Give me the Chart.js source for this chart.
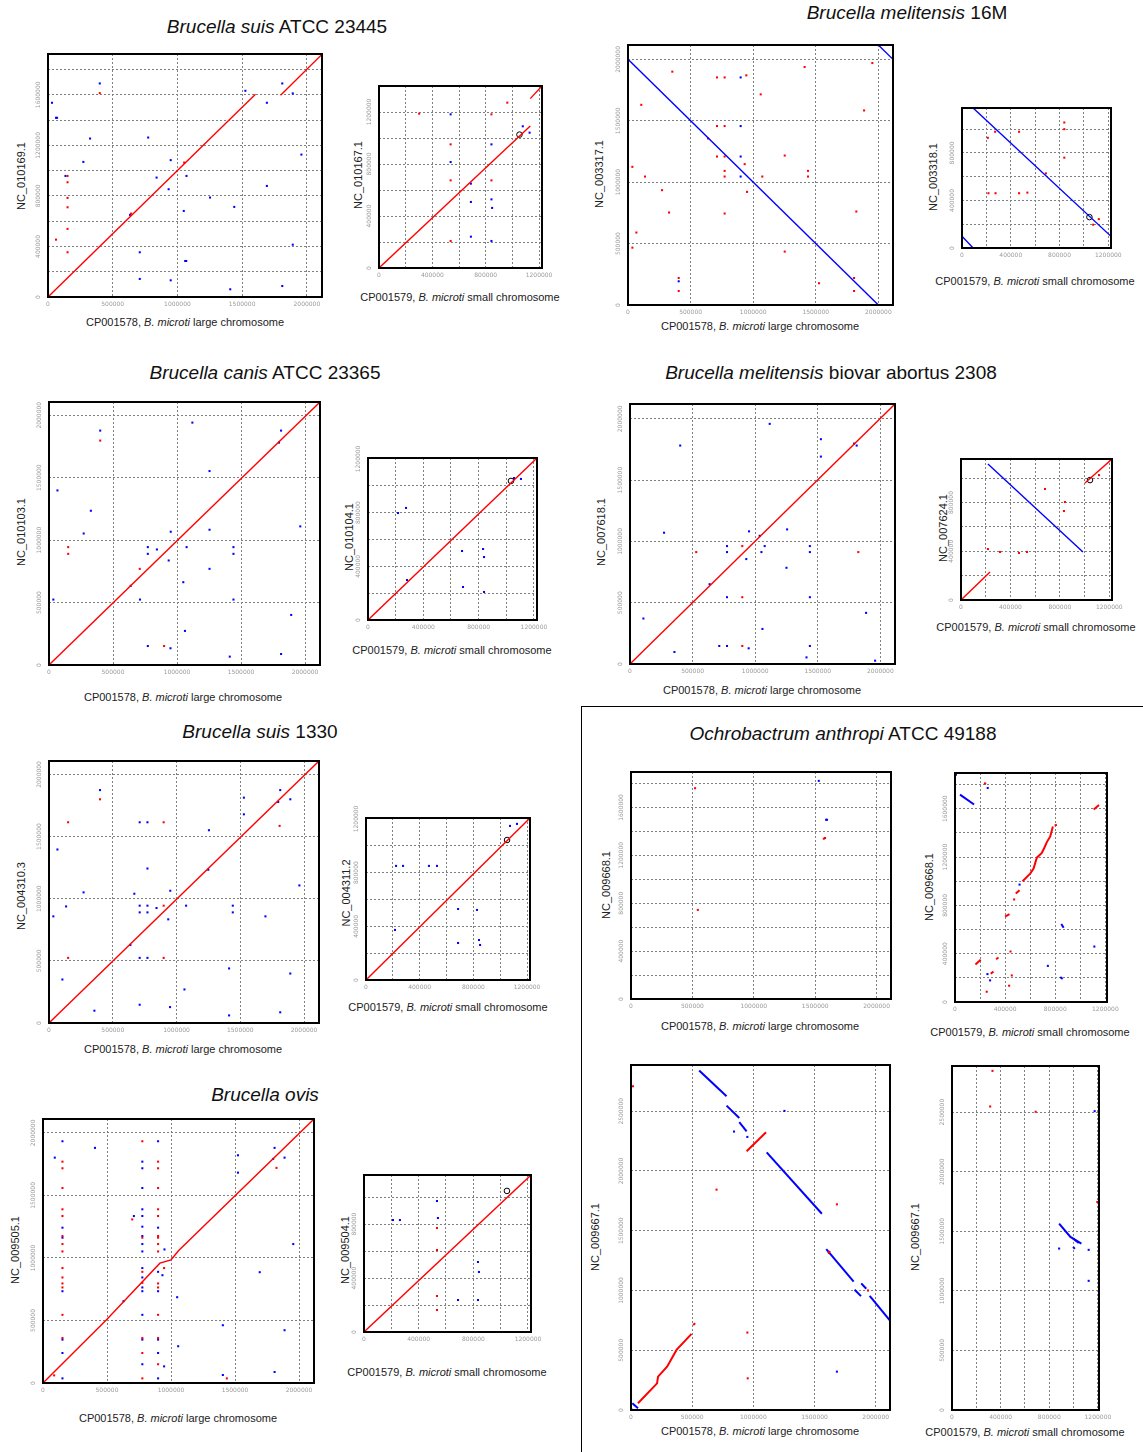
<!DOCTYPE html>
<html>
<head>
<meta charset="utf-8">
<script src="https://cdn.jsdelivr.net/npm/chart.js@4.4.0/dist/chart.umd.min.js"></script>
<style>
    body { margin: 0; background: #fff; width: 1143px; height: 1452px; position: relative; overflow: hidden; font-family: "Liberation Sans", Arial, sans-serif; }
    canvas { position: absolute; }
    .title { position: absolute; width: 480px; text-align: center; font-size: 19px; line-height: 20px; color: #111; white-space: nowrap; }
    .xt { position: absolute; width: 300px; text-align: center; font-size: 11px; line-height: 12px; color: #222; white-space: nowrap; }
    .yt { position: absolute; width: 120px; text-align: center; font-size: 11px; line-height: 12px; color: #222; white-space: nowrap; transform: rotate(-90deg); }
    .section { position: absolute; left: 581px; top: 706px; width: 570px; height: 760px; border-left: 1.5px solid #000; border-top: 1.5px solid #000; }
</style>
</head>
<body>
<div class="section"></div>
<div id="texts"></div>
<script>
// tick positions (bp)
const grid500k = [0, 500000, 1000000, 1500000, 2000000, 2500000];
const grid200k = [0, 200000, 400000, 600000, 800000, 1000000, 1200000, 1400000, 1600000, 1800000, 2000000];
const labels500k = [0, 500000, 1000000, 1500000, 2000000, 2500000];
const labels400k = [0, 400000, 800000, 1200000, 1600000, 2000000];

// Brucella suis ATCC 23445
const suis23445Big_redSeg = [[0, 0, 1603000, 1605000], [1797000, 1597000, 2117000, 1920000]];
const suis23445Big_red = [[400000, 1613000], [151000, 958000], [151000, 908000], [151000, 784000], [151000, 710000], [151000, 539000], [62000, 454000], [151000, 354000], [1052000, 1064000], [642000, 660000]];
const suis23445Big_blue = [[400000, 1690000], [31000, 1537000], [62000, 1418000], [70000, 1418000], [325000, 1254000], [774000, 1262000], [273000, 1069000], [948000, 1083000], [135000, 958000], [1070000, 958000], [839000, 945000], [932000, 853000], [1252000, 787000], [1439000, 713000], [1049000, 681000], [634000, 650000], [1525000, 1632000], [1691000, 1537000], [1810000, 1690000], [1891000, 1611000], [1958000, 1127000], [1691000, 879000], [1891000, 414000], [709000, 354000], [1060000, 285000], [1068000, 285000], [709000, 143000], [948000, 132000], [1408000, 61000], [1810000, 87000]];
const suis23445Small_redSeg = [[0, 0, 1134000, 1092000], [1134000, 1303000, 1222000, 1400000]];
const suis23445Small_red = [[301000, 1187000], [962000, 1272000], [843000, 1182000], [537000, 951000], [537000, 674000], [843000, 674000], [537000, 208000]];
const suis23445Small_blue = [[537000, 1182000], [1078000, 1090000], [1129000, 1041000], [843000, 951000], [537000, 815000], [689000, 649000], [689000, 508000], [843000, 528000], [848000, 462000], [689000, 241000], [843000, 208000]];
const suis23445Small_ring = [[1053000, 1026000]];

// Brucella melitensis 16M
const meli16MBig_blueSeg = [[0, 2000000, 2000000, 0], [2000000, 2117000, 2117000, 2000000]];
const meli16MBig_red = [[354000, 1900000], [711000, 1853000], [772000, 1853000], [945000, 1870000], [1411000, 1938000], [1952000, 1970000], [1060000, 1715000], [106000, 1630000], [1886000, 1584000], [711000, 1457000], [772000, 1457000], [639000, 1356000], [711000, 1209000], [772000, 1209000], [1252000, 1217000], [932000, 1147000], [35000, 1125000], [772000, 1092000], [1438000, 1092000], [136000, 1046000], [772000, 1046000], [1073000, 1046000], [1438000, 1046000], [272000, 935000], [951000, 921000], [328000, 753000], [772000, 745000], [1824000, 761000], [67000, 590000], [35000, 467000], [1252000, 435000], [405000, 220000], [1806000, 220000], [1526000, 177000], [405000, 114000], [1806000, 114000]];
const meli16MBig_blue = [[900000, 1853000], [900000, 1457000], [900000, 1209000], [900000, 1046000], [405000, 193000]];
const meli16MSmall_blueSeg = [[91000, 1178000, 1222000, 98000], [0, 98000, 91000, 0]];
const meli16MSmall_red = [[839000, 1056000], [839000, 1000000], [468000, 978000], [272000, 978000], [212000, 927000], [839000, 760000], [688000, 628000], [217000, 461000], [275000, 461000], [468000, 461000], [536000, 466000], [1122000, 243000], [1076000, 196000]];
const meli16MSmall_ring = [[1045000, 260000]];

// Brucella canis ATCC 23365
const canisBig_redSeg = [[0, 0, 2117000, 2106000]];
const canisBig_red = [[400000, 1797000], [150000, 944000], [150000, 890000], [709000, 770000], [899000, 152000]];
const canisBig_blue = [[400000, 1877000], [1120000, 1941000], [1813000, 1877000], [1797000, 1781000], [1254000, 1553000], [66000, 1398000], [327000, 1235000], [271000, 1053000], [951000, 1067000], [1254000, 1083000], [1963000, 1110000], [772000, 944000], [772000, 890000], [843000, 925000], [1075000, 944000], [1441000, 944000], [1441000, 890000], [935000, 837000], [1254000, 770000], [1049000, 663000], [638000, 634000], [34000, 524000], [711000, 524000], [1441000, 524000], [1892000, 401000], [1062000, 273000], [772000, 152000], [949000, 134000], [1412000, 67000], [1813000, 88000]];
const canisSmall_redSeg = [[0, 0, 1222000, 1207000]];
const canisSmall_red = [];
const canisSmall_blue = [[217000, 797000], [275000, 835000], [282000, 298000], [680000, 514000], [832000, 529000], [839000, 469000], [687000, 246000], [839000, 209000], [1056000, 1058000], [1106000, 1051000]];
const canisSmall_ring = [[1034000, 1036000]];

// Brucella melitensis biovar abortus 2308
const abortusBig_redSeg = [[0, 0, 2117000, 2121000]];
const abortusBig_red = [[529000, 913000], [897000, 962000], [1824000, 913000], [897000, 545000], [897000, 147000]];
const abortusBig_blue = [[1116000, 1959000], [401000, 1782000], [1525000, 1834000], [1525000, 1692000], [1790000, 1798000], [1811000, 1782000], [272000, 1071000], [951000, 1082000], [1255000, 1098000], [1036000, 1046000], [775000, 962000], [775000, 913000], [1050000, 913000], [1076000, 962000], [1437000, 962000], [1437000, 913000], [929000, 856000], [1250000, 785000], [636000, 651000], [775000, 545000], [1437000, 545000], [107000, 371000], [1886000, 417000], [1058000, 286000], [713000, 147000], [775000, 147000], [1437000, 147000], [355000, 98000], [948000, 128000], [1410000, 54000], [1958000, 27000]];
const abortusSmall_redSeg = [[0, 0, 235000, 230000], [1003000, 960000, 1222000, 1157000]];
const abortusSmall_blueSeg = [[218000, 1116000, 987000, 394000]];
const abortusSmall_red = [[218000, 418000], [316000, 394000], [469000, 386000], [534000, 394000], [680000, 911000], [833000, 730000], [841000, 804000], [1117000, 1025000]];
const abortusSmall_ring = [[1044000, 984000]];

// Brucella suis 1330
const suis1330Big_redSeg = [[0, 0, 2117000, 2108000]];
const suis1330Big_red = [[400000, 1800000], [150000, 1615000], [899000, 1615000], [1808000, 1586000], [899000, 944000], [150000, 524000], [899000, 524000]];
const suis1330Big_blue = [[400000, 1874000], [1813000, 1874000], [1528000, 1813000], [1892000, 1800000], [1797000, 1778000], [1528000, 1679000], [711000, 1615000], [772000, 1615000], [1254000, 1551000], [66000, 1396000], [772000, 1243000], [1249000, 1233000], [1963000, 1107000], [951000, 1064000], [271000, 1051000], [669000, 1040000], [134000, 938000], [711000, 944000], [772000, 944000], [1075000, 944000], [1441000, 944000], [843000, 925000], [711000, 890000], [772000, 890000], [1441000, 890000], [34000, 858000], [1697000, 858000], [935000, 834000], [638000, 628000], [711000, 524000], [772000, 524000], [1412000, 439000], [1892000, 398000], [105000, 350000], [1062000, 270000], [711000, 147000], [949000, 128000], [356000, 99000], [1412000, 61000], [1813000, 86000]];
const suis1330Small_redSeg = [[0, 0, 1222000, 1207000]];
const suis1330Small_red = [];
const suis1330Small_blue = [[224000, 850000], [276000, 850000], [469000, 850000], [529000, 850000], [216000, 373000], [686000, 529000], [827000, 522000], [686000, 276000], [842000, 298000], [850000, 261000], [1073000, 1148000], [1125000, 1163000]];
const suis1330Small_ring = [[1051000, 1043000]];

// Brucella ovis
const ovisBig_redSeg = [[0, 0, 500000, 510000, 913000, 958000, 1000000, 985000, 1060000, 1060000, 2117000, 2111000]];
const ovisBig_red = [
    [152000, 1770000], [152000, 1717000], [152000, 1559000], [152000, 1389000], [152000, 1335000], [152000, 1175000], [152000, 1111000], [152000, 1052000], [152000, 919000], [152000, 844000], [152000, 796000], [152000, 764000], [152000, 545000], [152000, 360000],
    [776000, 1933000], [776000, 1162000], [776000, 889000], [776000, 801000], [776000, 360000], [776000, 240000], [776000, 37000],
    [899000, 1770000], [899000, 1717000], [899000, 1559000], [899000, 1389000], [899000, 1335000], [899000, 1175000], [899000, 1162000], [899000, 1111000], [899000, 1052000], [899000, 796000], [899000, 764000], [899000, 545000], [899000, 360000], [899000, 150000],
    [697000, 1308000], [946000, 919000], [1436000, 37000], [1824000, 1720000], [87000, 61000]
];
const ovisBig_blue = [
    [152000, 1933000], [152000, 1242000], [152000, 1162000], [152000, 734000], [152000, 347000], [152000, 240000], [152000, 37000],
    [776000, 1770000], [776000, 1717000], [776000, 1559000], [776000, 1389000], [776000, 1335000], [776000, 1250000], [776000, 1175000], [776000, 1111000], [776000, 1052000], [776000, 919000], [776000, 844000], [776000, 764000], [776000, 734000], [776000, 545000], [776000, 347000], [776000, 150000],
    [899000, 1933000], [899000, 1242000], [899000, 889000], [899000, 734000], [899000, 347000], [899000, 240000], [899000, 37000],
    [92000, 1802000], [406000, 1880000], [710000, 1335000], [949000, 1068000], [933000, 862000], [1048000, 686000], [1056000, 294000], [946000, 133000], [1405000, 462000], [1405000, 64000], [1523000, 1821000], [1523000, 1682000], [1809000, 1880000], [1798000, 1792000], [1887000, 1802000], [1693000, 886000], [1955000, 1111000], [1887000, 422000], [1809000, 88000], [629000, 654000]
];
const ovisSmall_redSeg = [[0, 0, 1222000, 1164000]];
const ovisSmall_red = [[534000, 771000], [534000, 608000], [534000, 267000], [534000, 163000]];
const ovisSmall_blue = [[212000, 830000], [263000, 830000], [534000, 971000], [541000, 845000], [834000, 519000], [841000, 445000], [688000, 237000], [834000, 237000]];
const ovisSmall_ring = [[1046000, 1046000]];

// Ochrobactrum anthropi ATCC 49188, NC_009668.1
const ochroC2Big_red = [[522000, 1761000], [1570000, 1339000], [1580000, 1345000], [544000, 744000]];
const ochroC2Big_blue = [[1529000, 1822000], [1589000, 1497000], [1596000, 1497000]];
const ochroC2Small_redSeg = [
    [232000, 1813000, 248000, 1805000], [1107000, 1593000, 1149000, 1632000],
    [400000, 706000, 435000, 728000], [485000, 898000, 515000, 926000],
    [539000, 1000000, 600000, 1063000, 627000, 1104000, 653000, 1195000, 693000, 1234000, 712000, 1275000, 733000, 1324000, 760000, 1371000, 781000, 1453000],
    [795000, 1462000, 813000, 1467000], [163000, 310000, 205000, 349000], [328000, 354000, 347000, 368000], [285000, 233000, 307000, 253000]
];
const ochroC2Small_red = [[472000, 849000], [443000, 418000], [453000, 220000], [432000, 135000], [253000, 85000]];
const ochroC2Small_blueSeg = [[40000, 1717000, 152000, 1635000], [848000, 646000, 867000, 615000], [840000, 206000, 859000, 192000]];
const ochroC2Small_blue = [[8000, 1882000], [1210000, 1890000], [261000, 1772000], [515000, 972000], [1112000, 459000], [741000, 299000], [259000, 231000], [280000, 179000]];

// Ochrobactrum anthropi ATCC 49188, NC_009667.1
const ochroC1Big_redSeg = [[57000, 56000, 213000, 223000, 221000, 279000, 295000, 363000, 372000, 503000, 495000, 637000], [508000, 712000, 525000, 726000], [945000, 2165000, 1104000, 2324000], [1610000, 1310000, 1628000, 1330000]];
const ochroC1Big_red = [[16000, 2709000], [699000, 1844000], [1683000, 1721000], [1937000, 1000000], [951000, 648000], [954000, 265000], [5000, 5000]];
const ochroC1Big_blueSeg = [[11000, 56000, 57000, 14000], [557000, 2841000, 781000, 2626000], [781000, 2547000, 885000, 2444000], [885000, 2408000, 945000, 2332000], [1109000, 2156000, 1560000, 1642000], [1596000, 1346000, 1820000, 1075000], [1828000, 1006000, 1880000, 953000], [1882000, 1060000, 1923000, 1015000], [1951000, 955000, 2117000, 749000]];
const ochroC1Big_blue = [[842000, 2330000], [951000, 2285000], [1254000, 2503000], [1683000, 321000]];
const ochroC1Small_red = [[333000, 2846000], [314000, 2547000], [688000, 2503000], [1195000, 1746000]];
const ochroC1Small_blueSeg = [[881000, 1564000, 974000, 1453000, 1064000, 1397000], [996000, 1439000, 1042000, 1402000], [996000, 1369000, 1010000, 1352000]];
const ochroC1Small_blue = [[1173000, 2508000], [881000, 1355000], [1124000, 1344000], [1124000, 1084000]];

const RED = '#ff0000';
const BLUE = '#0000ff';
const GRID_COLOR = '#808080';
const TICK_COLOR = '#9a9a9a';
const ML = 30, MT = 12, MR = 22, MB = 16;

const smallTitle = 'CP001579, <i>B. microti</i> small chromosome';
const largeTitle = 'CP001578, <i>B. microti</i> large chromosome';

// box = [left, top, right, bottom] of the plot frame on the page
const panels = [
    { box: [48, 54, 322, 297], xMax: 2117000, yMax: 1923000, xGrid: grid500k, xLabels: labels500k, yGrid: grid200k, yLabels: labels400k,
      redSeg: suis23445Big_redSeg, red: suis23445Big_red, blue: suis23445Big_blue, lw: 1.4,
      xt: [185, 322, largeTitle], yt: [21, 176, 'NC_010169.1'] },
    { box: [379, 86, 542, 268], xMax: 1222000, yMax: 1400000, xGrid: grid200k, xLabels: labels400k, yGrid: grid200k, yLabels: labels400k,
      redSeg: suis23445Small_redSeg, red: suis23445Small_red, blue: suis23445Small_blue, ring: suis23445Small_ring, lw: 1.4,
      xt: [460, 297, smallTitle], yt: [358, 175, 'NC_010167.1'] },
    { box: [628, 45, 893, 305], xMax: 2117000, yMax: 2117000, xGrid: grid500k, xLabels: labels500k, yGrid: grid500k, yLabels: labels500k,
      blueSeg: meli16MBig_blueSeg, red: meli16MBig_red, blue: meli16MBig_blue, lw: 1.4,
      xt: [760, 326, largeTitle], yt: [599, 174, 'NC_003317.1'] },
    { box: [962, 108, 1111, 248], xMax: 1222000, yMax: 1178000, xGrid: grid200k, xLabels: labels400k, yGrid: grid200k, yLabels: labels400k,
      blueSeg: meli16MSmall_blueSeg, red: meli16MSmall_red, ring: meli16MSmall_ring, lw: 1.4,
      xt: [1035, 281, smallTitle], yt: [933, 177, 'NC_003318.1'] },
    { box: [49, 402, 320, 665], xMax: 2117000, yMax: 2106000, xGrid: grid500k, xLabels: labels500k, yGrid: grid500k, yLabels: labels500k,
      redSeg: canisBig_redSeg, red: canisBig_red, blue: canisBig_blue, lw: 1.4,
      xt: [183, 697, largeTitle], yt: [21, 532, 'NC_010103.1'] },
    { box: [368, 458, 537, 620], xMax: 1222000, yMax: 1207000, xGrid: grid200k, xLabels: labels400k, yGrid: grid200k, yLabels: labels400k,
      redSeg: canisSmall_redSeg, red: canisSmall_red, blue: canisSmall_blue, ring: canisSmall_ring, lw: 1.4,
      xt: [452, 650, smallTitle], yt: [349, 537, 'NC_010104.1'] },
    { box: [630, 404, 895, 664], xMax: 2117000, yMax: 2121000, xGrid: grid500k, xLabels: labels500k, yGrid: grid500k, yLabels: labels500k,
      redSeg: abortusBig_redSeg, red: abortusBig_red, blue: abortusBig_blue, lw: 1.4,
      xt: [762, 690, largeTitle], yt: [601, 532, 'NC_007618.1'] },
    { box: [961, 459, 1112, 600], xMax: 1222000, yMax: 1157000, xGrid: grid200k, xLabels: labels400k, yGrid: grid200k, yLabels: labels400k,
      redSeg: abortusSmall_redSeg, blueSeg: abortusSmall_blueSeg, red: abortusSmall_red, ring: abortusSmall_ring, lw: 1.4,
      xt: [1036, 627, smallTitle], yt: [943, 528, 'NC_007624.1'] },
    { box: [49, 761, 319, 1023], xMax: 2117000, yMax: 2108000, xGrid: grid500k, xLabels: labels500k, yGrid: grid500k, yLabels: labels500k,
      redSeg: suis1330Big_redSeg, red: suis1330Big_red, blue: suis1330Big_blue, lw: 1.4,
      xt: [183, 1049, largeTitle], yt: [21, 896, 'NC_004310.3'] },
    { box: [366, 818, 530, 980], xMax: 1222000, yMax: 1207000, xGrid: grid200k, xLabels: labels400k, yGrid: grid200k, yLabels: labels400k,
      redSeg: suis1330Small_redSeg, red: suis1330Small_red, blue: suis1330Small_blue, ring: suis1330Small_ring, lw: 1.4,
      xt: [448, 1007, smallTitle], yt: [346, 893, 'NC_004311.2'] },
    { box: [43, 1119, 314, 1383], xMax: 2117000, yMax: 2111000, xGrid: grid500k, xLabels: labels500k, yGrid: grid500k, yLabels: labels500k,
      redSeg: ovisBig_redSeg, red: ovisBig_red, blue: ovisBig_blue, lw: 1.4,
      xt: [178, 1418, largeTitle], yt: [15, 1250, 'NC_009505.1'] },
    { box: [364, 1175, 531, 1332], xMax: 1222000, yMax: 1164000, xGrid: grid200k, xLabels: labels400k, yGrid: grid200k, yLabels: labels400k,
      redSeg: ovisSmall_redSeg, red: ovisSmall_red, blue: ovisSmall_blue, ring: ovisSmall_ring, lw: 1.4,
      xt: [447, 1372, smallTitle], yt: [345, 1250, 'NC_009504.1'] },
    { box: [631, 772, 891, 999], xMax: 2117000, yMax: 1896000, xGrid: grid500k, xLabels: labels500k, yGrid: grid200k, yLabels: labels400k,
      red: ochroC2Big_red, blue: ochroC2Big_blue, lw: 2,
      xt: [760, 1026, largeTitle], yt: [606, 885, 'NC_009668.1'] },
    { box: [955, 773, 1107, 1002], xMax: 1213000, yMax: 1896000, xGrid: grid200k, xLabels: labels400k, yGrid: grid200k, yLabels: labels400k,
      redSeg: ochroC2Small_redSeg, blueSeg: ochroC2Small_blueSeg, red: ochroC2Small_red, blue: ochroC2Small_blue, lw: 2,
      xt: [1030, 1032, smallTitle], yt: [929, 887, 'NC_009668.1'] },
    { box: [631, 1065, 890, 1410], xMax: 2117000, yMax: 2887000, xGrid: grid500k, xLabels: labels500k, yGrid: grid500k, yLabels: labels500k,
      redSeg: ochroC1Big_redSeg, blueSeg: ochroC1Big_blueSeg, red: ochroC1Big_red, blue: ochroC1Big_blue, lw: 2,
      xt: [760, 1431, largeTitle], yt: [595, 1237, 'NC_009667.1'] },
    { box: [952, 1066, 1099, 1410], xMax: 1209000, yMax: 2887000, xGrid: grid200k, xLabels: labels400k, yGrid: grid500k, yLabels: labels500k,
      blueSeg: ochroC1Small_blueSeg, red: ochroC1Small_red, blue: ochroC1Small_blue, lw: 2,
      xt: [1025, 1432, smallTitle], yt: [915, 1237, 'NC_009667.1'] }
];

const titles = [
    [277, 27, '<i>Brucella suis</i> ATCC 23445'],
    [907, 13, '<i>Brucella melitensis</i> 16M'],
    [265, 373, '<i>Brucella canis</i> ATCC 23365'],
    [831, 373, '<i>Brucella melitensis</i> biovar abortus 2308'],
    [260, 732, '<i>Brucella suis</i> 1330'],
    [265, 1095, '<i>Brucella ovis</i>'],
    [843, 734, '<i>Ochrobactrum anthropi</i> ATCC 49188']
];

function toPoints(list) {
    return list.map(p => ({ x: p[0], y: p[1] }));
}

function segDatasets(segs, color, lw) {
    return (segs || []).map(s => {
        const pts = [];
        for (let i = 0; i < s.length; i += 2) pts.push({ x: s[i], y: s[i + 1] });
        return { data: pts, showLine: true, borderColor: color, borderWidth: lw, pointRadius: 0, pointHoverRadius: 0 };
    });
}

function dotDataset(list, color, r) {
    return { data: toPoints(list || []), pointStyle: 'rect', pointRadius: r, backgroundColor: color, borderWidth: 0, showLine: false };
}

function axis(max, grid, labels, isX) {
    return {
        type: 'linear',
        min: 0,
        max: max,
        afterBuildTicks: s => { s.ticks = grid.filter(v => v <= max).map(v => ({ value: v })); },
        afterFit: s => {
            if (isX) s.height = MB; else s.width = ML;
            s.paddingLeft = 0; s.paddingRight = 0; s.paddingTop = 0; s.paddingBottom = 0;
        },
        ticks: {
            display: isX,
            autoSkip: false,
            maxRotation: 0,
            minRotation: 0,
            padding: 4,
            color: TICK_COLOR,
            font: { size: 6, family: 'DejaVu Sans' },
            callback: v => labels.includes(v) ? String(v) : ''
        },
        grid: { color: GRID_COLOR, lineWidth: 1, drawTicks: false },
        border: { display: false, dash: [2, 2] }
    };
}

// vertical tick labels on the y axis and the black frame
function framePlugin(p) {
    return {
        id: 'frame',
        afterDraw(chart) {
            const { ctx, chartArea: a } = chart;
            const y = chart.scales.y;
            ctx.save();
            ctx.fillStyle = TICK_COLOR;
            ctx.font = '6px "DejaVu Sans"';
            ctx.textAlign = 'center';
            ctx.textBaseline = 'middle';
            y.ticks.forEach(t => {
                if (!p.yLabels.includes(t.value)) return;
                ctx.save();
                ctx.translate(a.left - 10, y.getPixelForValue(t.value));
                ctx.rotate(-Math.PI / 2);
                ctx.fillText(String(t.value), 0, 0);
                ctx.restore();
            });
            ctx.strokeStyle = '#000';
            ctx.lineWidth = 2;
            ctx.strokeRect(a.left, a.top, a.right - a.left, a.bottom - a.top);
            ctx.restore();
        }
    };
}

function renderPanel(p) {
    const [l, t, r, b] = p.box;
    const w = r - l + ML + MR;
    const h = b - t + MT + MB;
    const canvas = document.createElement('canvas');
    canvas.width = w;
    canvas.height = h;
    canvas.style.left = (l - ML) + 'px';
    canvas.style.top = (t - MT) + 'px';
    canvas.style.width = w + 'px';
    canvas.style.height = h + 'px';
    document.body.appendChild(canvas);

    const datasets = [
        ...segDatasets(p.redSeg, RED, p.lw),
        ...segDatasets(p.blueSeg, BLUE, p.lw),
        dotDataset(p.red, RED, 1.45),
        dotDataset(p.blue, BLUE, 1.45)
    ];
    if (p.ring) {
        datasets.push({ data: toPoints(p.ring), pointStyle: 'circle', pointRadius: 2.8, backgroundColor: 'rgba(0,0,0,0)', borderColor: '#000', borderWidth: 1, showLine: false });
    }

    new Chart(canvas, {
        type: 'scatter',
        data: { datasets },
        options: {
            responsive: false,
            animation: false,
            events: [],
            layout: { padding: { left: 0, top: MT, right: MR, bottom: 0 } },
            plugins: { legend: { display: false }, tooltip: { enabled: false } },
            scales: {
                x: axis(p.xMax, p.xGrid, p.xLabels, true),
                y: axis(p.yMax, p.yGrid, p.yLabels, false)
            }
        },
        plugins: [framePlugin(p)]
    });
}

function addText(cls, cx, cy, html, w, h) {
    const d = document.createElement('div');
    d.className = cls;
    d.style.left = (cx - w / 2) + 'px';
    d.style.top = (cy - h / 2) + 'px';
    d.innerHTML = html;
    document.getElementById('texts').appendChild(d);
}

titles.forEach(t => addText('title', t[0], t[1], t[2], 480, 20));
panels.forEach(p => {
    renderPanel(p);
    addText('xt', p.xt[0], p.xt[1], p.xt[2], 300, 12);
    addText('yt', p.yt[0], p.yt[1], p.yt[2], 120, 12);
});
</script>
</body>
</html>
